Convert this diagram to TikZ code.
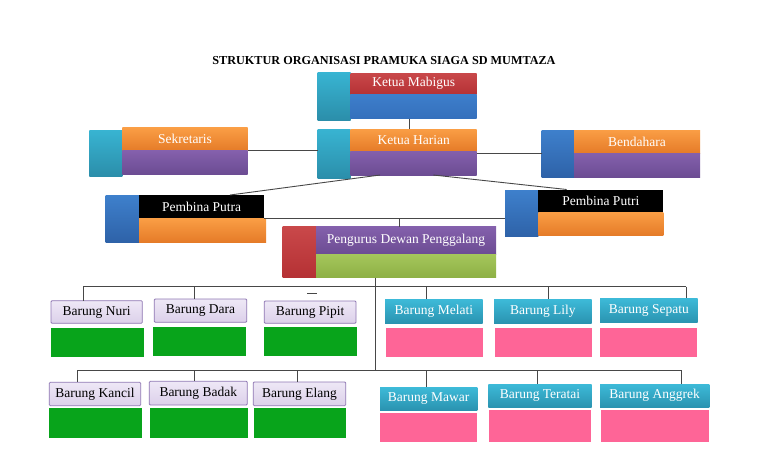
\documentclass[tikz,border=0pt]{standalone}
\usepackage{fontspec}
\setmainfont{Liberation Serif}
\usetikzlibrary{calc}
\definecolor{tabTop}{HTML}{38B4D2}
\definecolor{tabBot}{HTML}{2B8EAA}
\definecolor{blueTop}{HTML}{3E80CC}
\definecolor{blueBot}{HTML}{2E62A8}
\definecolor{redTop}{HTML}{C9484A}
\definecolor{redBot}{HTML}{B53134}
\definecolor{mbTop}{HTML}{3D7ECB}
\definecolor{mbBot}{HTML}{3570BC}
\definecolor{orgTop}{HTML}{FA9E45}
\definecolor{orgBot}{HTML}{E57B28}
\definecolor{purTop}{HTML}{8460AC}
\definecolor{purBot}{HTML}{6C4C93}
\definecolor{grnTop}{HTML}{A5C65B}
\definecolor{grnBot}{HTML}{8DB045}
\definecolor{lavTop}{HTML}{EEE8F6}
\definecolor{lavBot}{HTML}{DCD0EA}
\definecolor{lavB}{HTML}{8F77B3}
\definecolor{cyTop}{HTML}{3DBAD8}
\definecolor{cyBot}{HTML}{2A93B0}
\definecolor{gboxc}{HTML}{08A41B}
\definecolor{pboxc}{HTML}{FE6597}
\definecolor{lnc}{HTML}{474747}
\newcommand\orgbox[7]{%
  \pgfmathsetmacro\orgbw{#4-#2}%
  \pgfmathsetmacro\orgbh{#5-#3}%
  \node[bx,#6,minimum width=\orgbw pt,minimum height=\orgbh pt,anchor=north west] (#1) at (#2,#3) {#7};}
\begin{document}
\begin{tikzpicture}[x=1pt,y=-1pt,
  font=\fontsize{13.5}{15}\selectfont,
  bx/.style={inner sep=0pt,outer sep=0pt,draw=none,text=white},
  tabC/.style={top color=tabTop,bottom color=tabBot},
  tabB/.style={top color=blueTop,bottom color=blueBot},
  redS/.style={top color=redTop,bottom color=redBot},
  bluS/.style={top color=mbTop,bottom color=mbBot},
  orgS/.style={top color=orgTop,bottom color=orgBot},
  purS/.style={top color=purTop,bottom color=purBot},
  grnS/.style={top color=grnTop,bottom color=grnBot},
  blkS/.style={fill=black},
  lav/.style={draw=lavB,line width=0.8pt,top color=lavTop,bottom color=lavBot,text=black,rounded corners=1pt},
  cyL/.style={top color=cyTop,bottom color=cyBot},
  gbox/.style={fill=gboxc},
  pbox/.style={fill=pboxc},
  ln/.style={draw=lnc,line width=0.9pt}]
\path[use as bounding box,fill=white] (0,0) rectangle (768,466);

\node[font=\bfseries\fontsize{12.2}{14}\selectfont] (title) at (384,61) {STRUKTUR ORGANISASI PRAMUKA SIAGA SD MUMTAZA};

% top level boxes
\orgbox{mabT}{317.7}{72.7}{350.7}{120}{tabC}{}
\orgbox{mabR}{350.7}{73}{476.7}{94.5}{redS}{Ketua Mabigus}
\orgbox{mabB}{350.7}{94.5}{476.7}{118.5}{bluS}{}

\orgbox{harT}{317.7}{129}{350.7}{178.5}{tabC}{}
\orgbox{harO}{350.7}{129}{476.7}{151}{orgS}{Ketua Harian}
\orgbox{harP}{350.7}{151}{476.7}{175}{purS}{}

\orgbox{sekT}{89.3}{130}{122.3}{176}{tabC}{}
\orgbox{sekO}{122.3}{127.7}{247.7}{150.7}{orgS}{Sekretaris}
\orgbox{sekP}{122.3}{150.7}{247.7}{174}{purS}{}

\orgbox{benT}{541.7}{130}{574}{177.3}{tabB}{}
\orgbox{benO}{574}{130}{700}{153.3}{orgS}{Bendahara}
\orgbox{benP}{574}{153.3}{700}{177.3}{purS}{}

\orgbox{ptiT}{505}{190}{538.3}{236.7}{tabB}{}
\orgbox{ptiK}{538.3}{189.5}{663.3}{212}{blkS}{Pembina Putri}
\orgbox{ptiO}{538.3}{212}{663.3}{235.5}{orgS}{}

\orgbox{ptaT}{105.7}{195}{139}{242.3}{tabB}{}
\orgbox{ptaK}{139}{195}{264.3}{218.3}{blkS}{Pembina Putra}
\orgbox{ptaO}{139}{218.3}{266}{242.3}{orgS}{}

\orgbox{pgT}{282.5}{226.7}{316}{277.7}{redS}{}
\orgbox{pgP}{316}{226.7}{496}{254}{purS}{Pengurus Dewan Penggalang}
\orgbox{pgG}{316}{254}{496}{277.7}{grnS}{}

% barung boxes
\orgbox{nuriL}{51}{300.7}{142.3}{323.3}{lav}{Barung Nuri}
\orgbox{nuriB}{51}{327.7}{144}{357.3}{gbox}{}
\orgbox{daraL}{154.3}{299}{246.7}{322.3}{lav}{Barung Dara}
\orgbox{daraB}{153.3}{326.7}{246}{356}{gbox}{}
\orgbox{pipitL}{264.3}{301}{356}{323.3}{lav}{Barung Pipit}
\orgbox{pipitB}{264.3}{327}{357.3}{356}{gbox}{}
\orgbox{kancilL}{49.3}{382.3}{140.7}{405.7}{lav}{Barung Kancil}
\orgbox{kancilB}{49.3}{408.3}{142.3}{437.7}{gbox}{}
\orgbox{badakL}{149.3}{381.3}{247.3}{405}{lav}{Barung Badak}
\orgbox{badakB}{150}{408}{248}{437.7}{gbox}{}
\orgbox{elangL}{253.3}{382}{345.7}{405.7}{lav}{Barung Elang}
\orgbox{elangB}{253.7}{408.3}{345.7}{437.7}{gbox}{}

\orgbox{melatiL}{385}{299.3}{482.7}{323.3}{cyL}{Barung Melati}
\orgbox{melatiB}{385.7}{328.3}{482.7}{357.3}{pbox}{}
\orgbox{lilyL}{494}{299.3}{591.7}{323.3}{cyL}{Barung Lily}
\orgbox{lilyB}{494.7}{328.3}{591.7}{357.3}{pbox}{}
\orgbox{sepatuL}{600}{298.3}{697.7}{322.7}{cyL}{Barung Sepatu}
\orgbox{sepatuB}{600}{328.3}{697.3}{357.3}{pbox}{}
\orgbox{mawarL}{380}{387.3}{477.3}{410}{cyL}{Barung Mawar}
\orgbox{mawarB}{380}{412.7}{477.3}{441.7}{pbox}{}
\orgbox{teratL}{488.3}{384}{591.7}{407.3}{cyL}{Barung Teratai}
\orgbox{teratB}{489}{410}{591}{441.7}{pbox}{}
\orgbox{anggL}{600}{384}{709.3}{407.3}{cyL}{Barung Anggrek}
\orgbox{anggB}{601}{410}{709.3}{441.7}{pbox}{}

% connectors, upper part
\draw[ln] ([xshift=-4.4pt]mabB.south) -- ([xshift=-4.4pt]harO.north);
\draw[ln] (sekP.north east) -- (sekP.north east -| harT.west);
\draw[ln] (benT.west -| harP.east) -- (benT.west);
\draw[ln] ([xshift=29.3pt]harP.south west) -- ([xshift=91pt]ptaK.north west);
\draw[ln] ([xshift=82.6pt]harP.south west) -- ([xshift=28.4pt]ptiK.north west);
\draw[ln] (ptaK.south east) -- (ptaK.south east -| ptiT.west);
\coordinate (tk) at (399.3,218.3);
\draw[ln] (tk) -- (tk |- pgP.north);

% hub
\coordinate (hub) at (375,370);
\draw[ln] (pgG.south -| hub) -- (hub);

% row 1
\coordinate (r1a) at (83.3,286.7);
\coordinate (r1b) at (686.3,286.7);
\draw[ln] (r1a) -- (r1b);
\draw[ln] (r1a) -- (r1a |- nuriL.north);
\coordinate (r1d) at (194,286.7);
\draw[ln] (r1d) -- (r1d |- daraL.north);
\coordinate (pd1) at (307,293);
\coordinate (pd2) at (317,293);
\draw[ln] (pd1) -- (pd2);
\coordinate (r1m) at (426.7,286.7);
\draw[ln] (r1m) -- (r1m |- melatiL.north);
\coordinate (r1l) at (548.3,286.7);
\draw[ln] (r1l) -- (r1l |- lilyL.north);
\draw[ln] (r1b) -- (r1b |- sepatuL.north);

% row 2
\coordinate (r2a) at (77.7,370);
\coordinate (r2b) at (681.7,370);
\draw[ln] (r2a) -- (r2b);
\draw[ln] (r2a) -- (r2a |- kancilL.north);
\coordinate (r2c) at (194.3,370);
\draw[ln] (r2c) -- (r2c |- badakL.north);
\coordinate (r2e) at (297.7,370);
\draw[ln] (r2e) -- (r2e |- elangL.north);
\coordinate (r2m) at (426.7,370);
\draw[ln] (r2m) -- (r2m |- mawarL.north);
\coordinate (r2t) at (537.7,370);
\draw[ln] (r2t) -- (r2t |- teratL.north);
\draw[ln] (r2b) -- (r2b |- anggL.north);
\end{tikzpicture}
\end{document}
